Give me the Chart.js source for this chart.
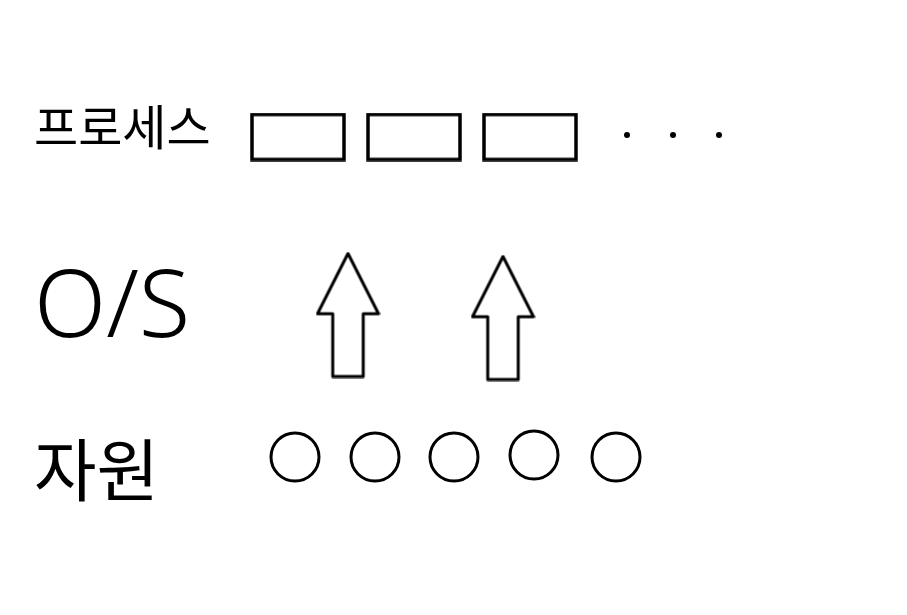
<!DOCTYPE html>
<html>
<head>
<meta charset="utf-8">
<script src="https://cdn.jsdelivr.net/npm/chart.js@4.4.1/dist/chart.umd.min.js"></script>
<style>
  html, body { margin: 0; padding: 0; background: #fff; }
  #wrap { width: 907px; height: 615px; position: relative; }
</style>
</head>
<body>
<div id="wrap"><canvas id="grafico"></canvas></div>
<script>
// rows of the diagram
const rowLabels = ['프로세스', 'O/S', '자원'];
const rowLabelY = [127, 310, 470];

// processes (boxes) and the "..." after them
const processX = [298, 414, 530];
const processY = [137, 137, 137];
const moreX = [627, 673, 719];
const moreY = [135, 135, 135];

// O/S arrows
const arrowX = [348, 503];
const arrowY = [315, 318];

// resources (circles)
const resourceX = [295, 375, 454, 534, 616];
const resourceY = [457, 457, 457, 455, 457];

function pts(xs, ys) {
    return xs.map((x, i) => ({ x: x, y: ys[i] }));
}

// box point style
function makeBox(w, h) {
    const c = document.createElement('canvas');
    c.width = w + 4;
    c.height = h + 4;
    const g = c.getContext('2d');
    g.strokeStyle = '#000';
    g.lineWidth = 3.5;
    g.strokeRect(2, 2, w, h);
    return c;
}

// up arrow point style
function makeArrow(w, h) {
    const c = document.createElement('canvas');
    c.width = w + 4;
    c.height = h + 4;
    const g = c.getContext('2d');
    const mid = 2 + w / 2;
    const head = 2 + h * 0.49;
    const shaft = w * 0.25;
    g.strokeStyle = '#000';
    g.lineWidth = 3;
    g.lineJoin = 'round';
    g.beginPath();
    g.moveTo(mid, 2);
    g.lineTo(2 + w, head);
    g.lineTo(mid + shaft, head);
    g.lineTo(mid + shaft, 2 + h);
    g.lineTo(mid - shaft, 2 + h);
    g.lineTo(mid - shaft, head);
    g.lineTo(2, head);
    g.closePath();
    g.stroke();
    return c;
}

const boxImg = makeBox(92, 45);
const arrowImg = makeArrow(61, 123);

const ctx = document.getElementById('grafico').getContext('2d');

new Chart(ctx, {
    type: 'scatter',
    data: {
        datasets: [
            {
                label: '프로세스',
                data: pts(processX, processY),
                pointStyle: boxImg
            },
            {
                label: '...',
                data: pts(moreX, moreY),
                pointStyle: 'circle',
                pointRadius: 3,
                backgroundColor: '#000',
                borderColor: '#000',
                borderWidth: 0
            },
            {
                label: 'O/S',
                data: pts(arrowX, arrowY),
                pointStyle: arrowImg
            },
            {
                label: '자원',
                data: pts(resourceX, resourceY),
                pointStyle: 'circle',
                pointRadius: 24,
                backgroundColor: '#fff',
                borderColor: '#000',
                borderWidth: 3
            }
        ]
    },
    options: {
        responsive: true,
        maintainAspectRatio: false,
        animation: false,
        events: [],
        layout: { padding: 0, autoPadding: false },
        plugins: {
            legend: { display: false },
            tooltip: { enabled: false }
        },
        scales: {
            x: {
                type: 'linear',
                display: false,
                min: 0,
                max: 907
            },
            y: {
                type: 'linear',
                reverse: true,
                min: 0,
                max: 615,
                grid: { display: false },
                border: { display: false },
                afterFit: (scale) => {
                    scale.width = 0;
                    scale.paddingTop = 0;
                    scale.paddingBottom = 0;
                    scale.paddingLeft = 0;
                    scale.paddingRight = 0;
                },
                afterBuildTicks: (scale) => {
                    scale.ticks = rowLabelY.map(v => ({ value: v }));
                },
                ticks: {
                    mirror: true,
                    padding: 34,
                    color: '#000',
                    autoSkip: false,
                    callback: (value, index) => rowLabels[index],
                    font: (c) => {
                        if (c.index === 1) return { family: 'Noto Sans', size: 94, weight: '300' };
                        if (c.index === 2) return { family: 'Noto Sans CJK KR', size: 68, weight: '400' };
                        return { family: 'Noto Sans CJK KR', size: 48, weight: '400' };
                    }
                }
            }
        }
    }
});
</script>
</body>
</html>
